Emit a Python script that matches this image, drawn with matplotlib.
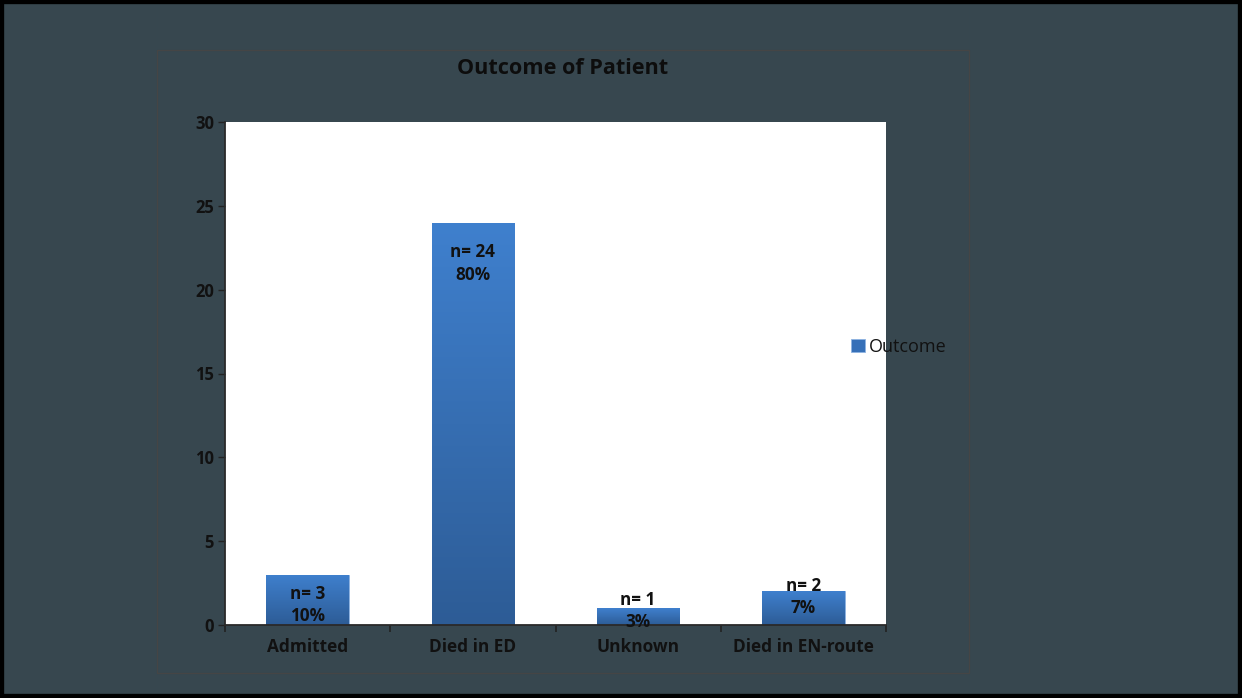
import numpy as np
import matplotlib
matplotlib.use("Agg")
import matplotlib.pyplot as plt
from matplotlib.patches import Rectangle
from matplotlib.colors import LinearSegmentedColormap

plt.rcParams['font.family'] = ['Open Sans', 'DejaVu Sans']

# data
categories = ["Admitted", "Died in ED", "Unknown", "Died in EN-route"]
counts = [3, 24, 1, 2]
percents = [10, 80, 3, 7]
series_name = "Outcome"

# vertical offset (points) of each value label below the bar top
label_offsets = [-22, -29.5, -2, -4]

BG = "#37474F"
fig = plt.figure(figsize=(12.42, 6.98), dpi=100, facecolor=BG)
ax = fig.add_axes([225 / 1242, 73 / 698, 661 / 1242, 503 / 698])
ax.set_facecolor("white")

x = np.arange(len(categories))
bars = ax.bar(x, counts, width=0.5, color="#3670B8", edgecolor="#8DB3E2",
              linewidth=0.6, label=series_name, zorder=2)

# vertical gradient fill clipped to each bar
grad = LinearSegmentedColormap.from_list("bar", ["#2D5C96", "#3F80CE"])
for b in bars:
    x0, y0 = b.get_x(), b.get_y()
    w, h = b.get_width(), b.get_height()
    im = ax.imshow(np.linspace(0, 1, 256).reshape(-1, 1), cmap=grad,
                   origin="lower", aspect="auto",
                   extent=[x0, x0 + w, y0, y0 + h], zorder=2.5)
    im.set_clip_path(b)

for xi, n, p, off in zip(x, counts, percents, label_offsets):
    ax.annotate(f"n= {n}\n{p}%", xy=(xi, n), xytext=(0, off),
                textcoords="offset points", ha="center", va="center",
                fontsize=12.3, fontweight="bold", color="#111111",
                linespacing=1.3, zorder=4)

ax.set_xlim(-0.5, len(categories) - 0.5)
ax.set_ylim(0, 30)
ax.set_yticks(range(0, 31, 5))
ax.set_xticks(x)
ax.set_xticklabels(categories, fontsize=12.4, fontweight="bold", color="#111111")
ax.set_xticks(np.arange(-0.5, len(categories)), minor=True)
ax.tick_params(axis="x", which="major", length=0, pad=9)
ax.tick_params(axis="x", which="minor", length=5, width=1.2, color="#222222",
               direction="out")
ax.tick_params(axis="y", length=5, width=1.0, color="#222222", pad=3,
               labelsize=12)
for lbl in ax.get_yticklabels():
    lbl.set_fontweight("bold")
    lbl.set_color("#111111")

for s in ["top", "right"]:
    ax.spines[s].set_visible(False)
for s in ["left", "bottom"]:
    ax.spines[s].set_color("#2a2a2a")
    ax.spines[s].set_linewidth(1.3)

fig.text(563 / 1242, 1 - 68 / 698, "Outcome of Patient", ha="center",
         va="center", fontsize=15.6, fontweight="bold", color="#0d0d0d")

leg = fig.legend(handles=[bars], labels=[series_name], loc="center left",
                 bbox_to_anchor=(835 / 1242, 1 - 347 / 698), frameon=False,
                 handlelength=0.75, handleheight=0.75, handletextpad=0.2,
                 fontsize=13)
for t in leg.get_texts():
    t.set_color("#111111")

# thin chart-area frame and the outer black border
fig.add_artist(Rectangle((157 / 1242, 1 - 673 / 698), 812 / 1242, 623 / 698,
                         transform=fig.transFigure, fill=False,
                         edgecolor="#454545", linewidth=0.9))
fig.add_artist(Rectangle((0, 0), 1, 1, transform=fig.transFigure, fill=False,
                         edgecolor="black", linewidth=6))

fig.savefig("out.png", dpi=100, facecolor=BG)
